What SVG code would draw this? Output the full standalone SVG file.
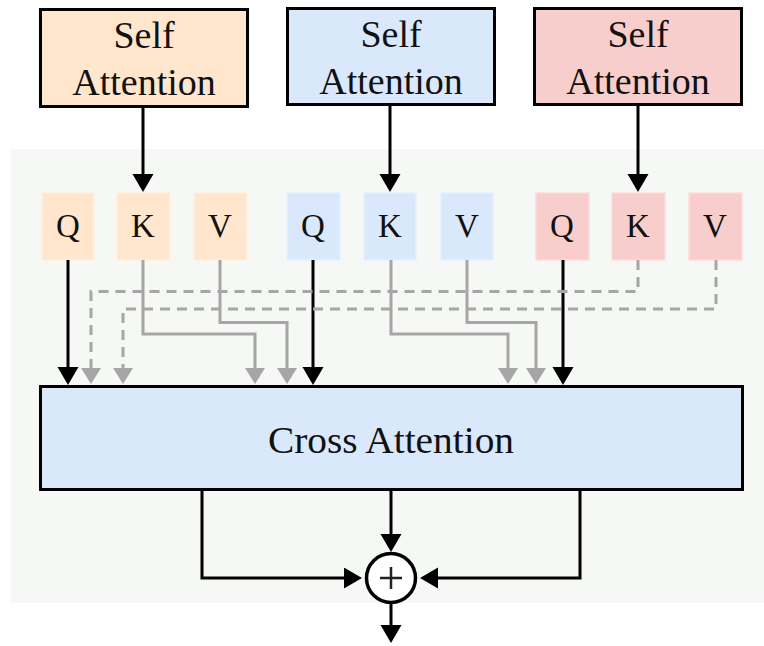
<svg xmlns="http://www.w3.org/2000/svg" width="764" height="646" viewBox="0 0 764 646">
  <style>
    .box { stroke: #000; stroke-width: 3; }
    .tok { stroke-width: 1.5; }
    .txt { font-family: "Liberation Serif", "Times New Roman", serif; fill: #111; text-anchor: middle; }
    .big { font-size: 38px; }
    .letter { font-size: 33px; }
    .blk { fill: none; stroke: #000; stroke-width: 3; }
    .gry { fill: none; stroke: #a6a6a6; stroke-width: 3; }
    .dash { stroke-dasharray: 10 7; }
    .orange { fill: #ffe6cc; }
    .blue { fill: #dae8fc; }
    .red { fill: #f8cecc; }
  </style>
  <defs>
    <marker id="ahBlack" markerUnits="userSpaceOnUse" markerWidth="22" markerHeight="22" refX="13" refY="10.5" orient="auto">
      <path d="M0,0 L18,10.5 L0,21 z" fill="#000"/>
    </marker>
    <marker id="ahGray" markerUnits="userSpaceOnUse" markerWidth="20" markerHeight="20" refX="12" refY="10" orient="auto">
      <path d="M0,0 L16,10 L0,20 z" fill="#a6a6a6"/>
    </marker>
  </defs>

  <!-- panel background -->
  <rect x="11" y="149" width="753" height="454" fill="#f6f8f5"/>

  <!-- self attention blocks -->
  <g id="sa1">
    <rect class="box orange" x="40.5" y="9.5" width="207" height="97"/>
    <text class="txt big" x="144" y="48">Self</text>
    <text class="txt big" x="144" y="95">Attention</text>
  </g>
  <g id="sa2">
    <rect class="box blue" x="287.5" y="8.5" width="207" height="96"/>
    <text class="txt big" x="391" y="47">Self</text>
    <text class="txt big" x="391" y="94">Attention</text>
  </g>
  <g id="sa3">
    <rect class="box red" x="534.5" y="8.5" width="207" height="96"/>
    <text class="txt big" x="638" y="47">Self</text>
    <text class="txt big" x="638" y="94">Attention</text>
  </g>

  <!-- Q / K / V tokens -->
  <g id="q1"><rect class="orange tok" stroke="#fff0e0" x="42" y="193" width="52" height="67"/><text class="txt letter" x="68" y="237">Q</text></g>
  <g id="k1"><rect class="orange tok" stroke="#fff0e0" x="117" y="193" width="53" height="67"/><text class="txt letter" x="143" y="237">K</text></g>
  <g id="v1"><rect class="orange tok" stroke="#fff0e0" x="194" y="193" width="53" height="67"/><text class="txt letter" x="220" y="237">V</text></g>

  <g id="q2"><rect class="blue tok" stroke="#e6effd" x="287" y="193" width="53" height="67"/><text class="txt letter" x="313" y="237">Q</text></g>
  <g id="k2"><rect class="blue tok" stroke="#e6effd" x="364" y="193" width="52" height="67"/><text class="txt letter" x="390" y="237">K</text></g>
  <g id="v2"><rect class="blue tok" stroke="#e6effd" x="441" y="193" width="52" height="67"/><text class="txt letter" x="467" y="237">V</text></g>

  <g id="q3"><rect class="red tok" stroke="#fbdcdb" x="536" y="193" width="53" height="67"/><text class="txt letter" x="562" y="237">Q</text></g>
  <g id="k3"><rect class="red tok" stroke="#fbdcdb" x="612" y="193" width="53" height="67"/><text class="txt letter" x="638" y="237">K</text></g>
  <g id="v3"><rect class="red tok" stroke="#fbdcdb" x="689" y="193" width="53" height="67"/><text class="txt letter" x="715" y="237">V</text></g>

  <!-- cross attention -->
  <g id="cross">
    <rect class="box blue" x="40.5" y="386.5" width="702" height="103"/>
    <text class="txt big" x="391" y="453" textLength="246" lengthAdjust="spacingAndGlyphs">Cross Attention</text>
  </g>

  <!-- sum node -->
  <g id="sum">
    <circle cx="391" cy="578" r="24.5" fill="#fff" stroke="#000" stroke-width="3.5"/>
    <path d="M380,578 H402 M391,567 V589" stroke="#222" stroke-width="2.5"/>
  </g>

  <!-- connectors -->
  <g id="connectors">
    <!-- self attention to K -->
    <path class="blk" d="M143,106 V187" marker-end="url(#ahBlack)"/>
    <path class="blk" d="M390,104 V187" marker-end="url(#ahBlack)"/>
    <path class="blk" d="M638,104 V187" marker-end="url(#ahBlack)"/>

    <!-- queries straight down -->
    <path class="blk" d="M68,260 V380" marker-end="url(#ahBlack)"/>
    <path class="blk" d="M313,260 V380" marker-end="url(#ahBlack)"/>
    <path class="blk" d="M563,260 V380" marker-end="url(#ahBlack)"/>

    <!-- cross-stream keys / values -->
    <path class="gry" d="M143,260 V334 H255 V380" marker-end="url(#ahGray)"/>
    <path class="gry" d="M220,260 V322.5 H287 V380" marker-end="url(#ahGray)"/>
    <path class="gry" d="M391,260 V334 H508 V380" marker-end="url(#ahGray)"/>
    <path class="gry" d="M467,260 V322.5 H536 V380" marker-end="url(#ahGray)"/>
    <path class="gry dash" d="M638,260 V291.5 H91 V380" marker-end="url(#ahGray)"/>
    <path class="gry dash" d="M716,260 V309 H123 V380" marker-end="url(#ahGray)"/>

    <!-- residual merge -->
    <path class="blk" d="M391,489 V547" marker-end="url(#ahBlack)"/>
    <path class="blk" d="M202,489 V578 H357" marker-end="url(#ahBlack)"/>
    <path class="blk" d="M580,489 V578 H425" marker-end="url(#ahBlack)"/>
    <path class="blk" d="M391,604 V638" marker-end="url(#ahBlack)"/>
  </g>
</svg>
